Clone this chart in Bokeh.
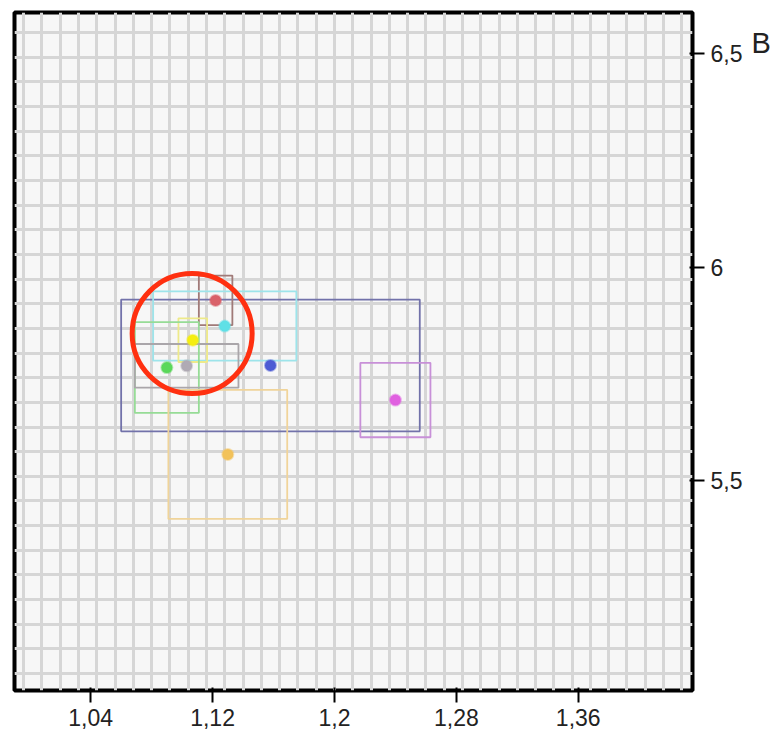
from bokeh.plotting import figure
from bokeh.layouts import row
from bokeh.models import FixedTicker, CustomJSTickFormatter, Label, Range1d, ColumnDataSource
from bokeh.embed import file_html
from bokeh.resources import INLINE

# ---- data ----
series = ["navy", "red", "cyan", "yellow", "green", "gray", "orange", "magenta"]
x_mean = [1.158, 1.122, 1.128, 1.107, 1.090, 1.103, 1.130, 1.240]
x_err = [0.098, 0.011, 0.047, 0.0094, 0.021, 0.034, 0.039, 0.023]
y_mean = [5.770, 5.922, 5.862, 5.829, 5.765, 5.769, 5.562, 5.689]
y_err = [0.154, 0.058, 0.081, 0.051, 0.106, 0.051, 0.151, 0.087]
point_colors = ["#4c5bd4", "#d9626a", "#5fe0e6", "#f5ee10", "#5ad85a", "#b0aab4", "#f2c25a", "#e060e0"]
box_colors = ["#7272aa", "#a07a78", "#9de4ea", "#eeea8a", "#96dc96", "#aaa6aa", "#f0d49a", "#c890d8"]
x_ticks = [1.04, 1.12, 1.2, 1.28, 1.36]
y_ticks = [5.5, 6.0, 6.5]
y_label = "B"
highlight_x = 1.1066
highlight_y = 5.8445

# decorative background grid
x_grid = [0.996 + 0.012 * k for k in range(37)]
y_grid = [5.0496 + 0.05763 * k for k in range(27)]

src = ColumnDataSource(dict(
    x=x_mean, y=y_mean,
    w=[2 * e for e in x_err], h=[2 * e for e in y_err],
    pc=point_colors, bc=box_colors,
))

FRAME = 678
W, H = 748, 735
p = figure(width=W, height=H, output_backend="svg", toolbar_location=None,
           x_range=Range1d(0.990, 1.435), y_range=Range1d(5.010, 6.595),
           y_axis_location="right",
           min_border_left=14, min_border_right=W - 14 - FRAME,
           min_border_top=12, min_border_bottom=H - 12 - FRAME)

p.background_fill_color = "#f7f7f7"
p.border_fill_color = "#ffffff"
p.outline_line_color = "#000000"
p.outline_line_width = 4

p.xgrid.ticker = FixedTicker(ticks=x_grid)
p.ygrid.ticker = FixedTicker(ticks=y_grid)
for g in (p.xgrid, p.ygrid):
    g.grid_line_color = "#d6d6d6"
    g.grid_line_width = 3

fmt = CustomJSTickFormatter(code="return String(Math.round(tick*100)/100).replace('.', ',');")
for ax, ticks in ((p.xaxis, x_ticks), (p.yaxis, y_ticks)):
    ax.ticker = FixedTicker(ticks=ticks)
    ax.formatter = fmt
    ax.axis_line_color = None
    ax.major_tick_line_color = "#000000"
    ax.major_tick_line_width = 2
    ax.major_tick_in = 3
    ax.major_tick_out = 12
    ax.minor_tick_line_color = None
    ax.major_label_text_font = "Liberation Sans"
    ax.major_label_text_font_size = "23px"
    ax.major_label_text_color = "#222222"
    ax.major_label_standoff = 6

p.rect(x="x", y="y", width="w", height="h", source=src, fill_alpha=0,
       line_color="bc", line_width=1.8)
p.scatter(x="x", y="y", source=src, size=11, fill_color="pc", line_color="pc",
          line_alpha=0.45, line_width=2)

p.scatter(x=[highlight_x], y=[highlight_y], size=120, marker="circle",
          fill_alpha=0, line_color="#ff3010", line_width=5)

# narrow strip to the right that carries the axis name "B" at the top
SW = 24
p2 = figure(width=SW, height=H, output_backend="svg", toolbar_location=None,
            x_axis_location=None, y_axis_location=None,
            x_range=Range1d(0, SW), y_range=Range1d(0, H),
            min_border_left=0, min_border_right=0, min_border_top=0, min_border_bottom=0)
p2.grid.visible = False
p2.outline_line_color = None
p2.background_fill_color = "#ffffff"
p2.border_fill_color = "#ffffff"
p2.add_layout(Label(x=3, y=H - 16, text=y_label, text_font="Liberation Sans",
                    text_font_size="29px", text_color="#222222", text_baseline="top"))

open("out.html", "w").write(file_html(row(p, p2, spacing=0), INLINE))
